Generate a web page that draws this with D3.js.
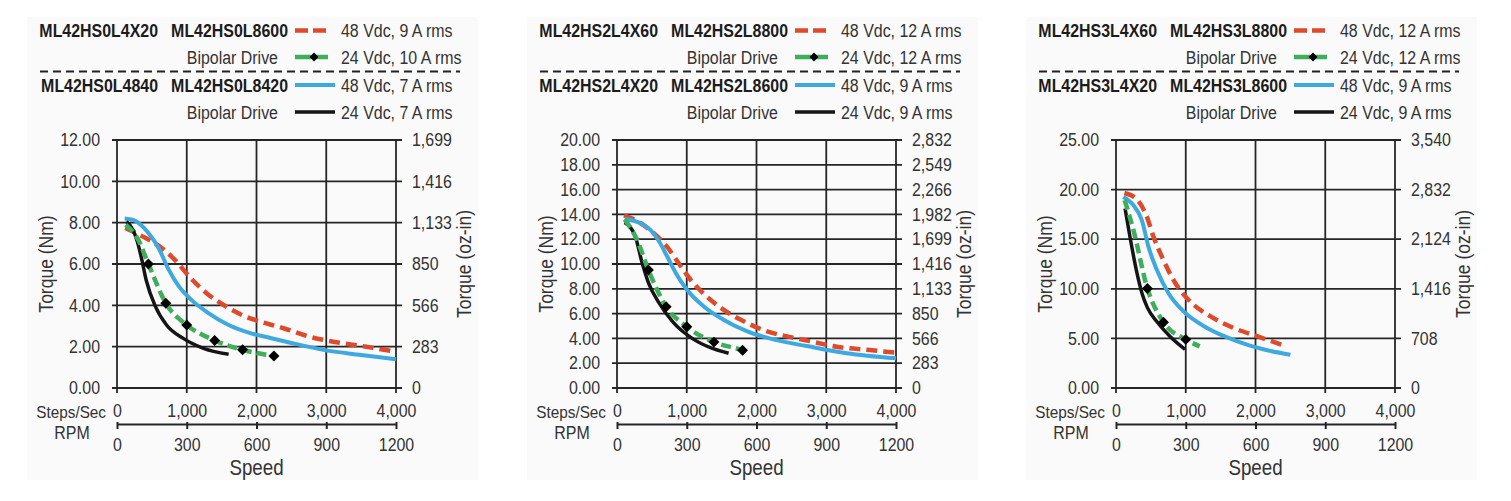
<!DOCTYPE html>
<html>
<head>
<meta charset="utf-8">
<script src="https://cdn.jsdelivr.net/npm/d3@7"></script>
<style>
  body { margin: 0; background: #fff; }
  svg text { font-family: "Liberation Sans", Arial, sans-serif; fill: #333; }
</style>
</head>
<body>
<svg id="chart" width="1511" height="501"></svg>
<script>
// shared speed axes
const stepTicks = [0, 1000, 2000, 3000, 4000];
const rpmTicks = [0, 300, 600, 900, 1200];

// ML42HS0 motors
const hs0Names = ['ML42HS0L4X20', 'ML42HS0L8600', 'ML42HS0L4840', 'ML42HS0L8420'];
const hs0Drives = ['48 Vdc, 9 A rms', '24 Vdc, 10 A rms', '48 Vdc, 7 A rms', '24 Vdc, 7 A rms'];
const hs0NmTicks = [0, 2, 4, 6, 8, 10, 12];
const hs0OzTicks = ['0', '283', '566', '850', '1,133', '1,416', '1,699'];
const hs0Red = [[120, 7.75], [330, 7.4], [590, 6.9], [830, 6.2], [1040, 5.38], [1280, 4.6], [1570, 3.93], [1850, 3.45], [2100, 3.17], [2400, 2.88], [2760, 2.48], [3100, 2.24], [3570, 2.0], [4000, 1.75]];
const hs0Green = [[125, 7.9], [300, 7.2], [450, 6.0], [700, 4.1], [1000, 3.05], [1400, 2.3], [1800, 1.85], [2250, 1.55]];
const hs0GreenMarks = [[450, 6.0], [700, 4.1], [1000, 3.05], [1400, 2.3], [1800, 1.85], [2250, 1.55]];
const hs0Blue = [[110, 8.2], [230, 8.13], [450, 7.5], [600, 6.75], [730, 5.8], [880, 4.95], [1070, 4.25], [1300, 3.65], [1600, 3.05], [1900, 2.67], [2200, 2.42], [2500, 2.18], [3000, 1.82], [3500, 1.6], [4000, 1.39]];
const hs0Black = [[135, 8.05], [230, 7.65], [290, 7.1], [350, 6.3], [420, 5.2], [550, 3.95], [710, 3.05], [950, 2.4], [1230, 1.93], [1600, 1.63]];

// ML42HS2 motors
const hs2Names = ['ML42HS2L4X60', 'ML42HS2L8800', 'ML42HS2L4X20', 'ML42HS2L8600'];
const hs2Drives = ['48 Vdc, 12 A rms', '24 Vdc, 12 A rms', '48 Vdc, 9 A rms', '24 Vdc, 9 A rms'];
const hs2NmTicks = [0, 2, 4, 6, 8, 10, 12, 14, 16, 18, 20];
const hs2OzTicks = ['0', '283', '566', '850', '1,133', '1,416', '1,699', '1,982', '2,266', '2,549', '2,832'];
const hs2Red = [[100, 13.92], [330, 13.33], [520, 12.52], [710, 11.44], [880, 10.1], [1070, 8.62], [1280, 7.41], [1520, 6.34], [1810, 5.4], [2140, 4.59], [2520, 4.06], [2760, 3.78], [3150, 3.33], [3620, 3.06], [4000, 2.85]];
const hs2Green = [[110, 13.6], [285, 11.98], [450, 9.52], [705, 6.56], [1000, 4.94], [1390, 3.7], [1800, 3.05], [1905, 2.84]];
const hs2GreenMarks = [[450, 9.52], [705, 6.56], [1000, 4.94], [1390, 3.7], [1800, 3.05]];
const hs2Blue = [[110, 13.65], [330, 13.3], [480, 12.75], [600, 11.85], [720, 10.6], [840, 9.3], [1000, 7.95], [1240, 6.6], [1520, 5.53], [1860, 4.59], [2240, 3.92], [2720, 3.38], [3290, 2.8], [4000, 2.39]];
const hs2Black = [[110, 13.35], [260, 12.25], [360, 10.1], [450, 8.5], [600, 6.88], [810, 5.27], [1100, 3.92], [1340, 3.25], [1600, 2.8]];

// ML42HS3 motors
const hs3Names = ['ML42HS3L4X60', 'ML42HS3L8800', 'ML42HS3L4X20', 'ML42HS3L8600'];
const hs3Drives = ['48 Vdc, 12 A rms', '24 Vdc, 12 A rms', '48 Vdc, 9 A rms', '24 Vdc, 9 A rms'];
const hs3NmTicks = [0, 5, 10, 15, 20, 25];
const hs3OzTicks = ['0', '708', '1,416', '2,124', '2,832', '3,540'];
const hs3Red = [[120, 19.66], [300, 19.0], [440, 17.3], [535, 15.3], [680, 12.9], [850, 10.58], [1060, 8.74], [1350, 7.24], [1680, 6.07], [2020, 5.23], [2400, 4.3]];
const hs3Green = [[125, 18.93], [250, 15.92], [450, 10.04], [680, 6.63], [1000, 4.9], [1200, 4.2]];
const hs3GreenMarks = [[450, 10.04], [680, 6.63], [1000, 4.9]];
const hs3Blue = [[105, 19.26], [250, 18.43], [370, 16.92], [465, 14.25], [585, 11.91], [750, 9.58], [965, 7.74], [1300, 6.07], [1730, 4.73], [2110, 3.9], [2500, 3.35]];
const hs3Black = [[130, 18.1], [200, 15.25], [300, 11.6], [370, 9.6], [450, 8.1], [585, 6.7], [775, 5.2], [990, 3.9]];

const panels = [
  { x0: 117, names: hs0Names, drives: hs0Drives, nmTicks: hs0NmTicks, ozTicks: hs0OzTicks,
    red: hs0Red, green: hs0Green, marks: hs0GreenMarks, blue: hs0Blue, black: hs0Black },
  { x0: 617, names: hs2Names, drives: hs2Drives, nmTicks: hs2NmTicks, ozTicks: hs2OzTicks,
    red: hs2Red, green: hs2Green, marks: hs2GreenMarks, blue: hs2Blue, black: hs2Black },
  { x0: 1116, names: hs3Names, drives: hs3Drives, nmTicks: hs3NmTicks, ozTicks: hs3OzTicks,
    red: hs3Red, green: hs3Green, marks: hs3GreenMarks, blue: hs3Blue, black: hs3Black }
];

const colors = { red: '#dd4a2c', green: '#3fae5c', blue: '#3ea9df', black: '#151515' };
const gridColor = '#262626';
const plotTop = 140, plotBottom = 388, plotW = 279;
const legendRows = [30.5, 57, 85, 112];
// the original lettering is a little taller than it is wide
const fs = 18, squeeze = 0.885;

const svg = d3.select('#chart');

panels.forEach(drawPanel);

// narrow every label so it keeps the original width
svg.selectAll('text').each(function () {
  const w = this.getComputedTextLength();
  this.setAttribute('textLength', w * squeeze);
  this.setAttribute('lengthAdjust', 'spacingAndGlyphs');
});

function styleAxis(a) {
  a.attr('font-size', fs).attr('font-family', null);
  a.selectAll('text').attr('fill', null);
}

function drawPanel(p) {
  const g = svg.append('g').attr('transform', `translate(${p.x0},0)`);

  const x = d3.scaleLinear().domain([0, 4000]).range([0, plotW]);
  const rpm = d3.scaleLinear().domain([0, 1200]).range([0, plotW]);
  const y = d3.scaleLinear().domain([0, d3.max(p.nmTicks)]).range([plotBottom, plotTop]);

  g.append('rect')
    .attr('x', -90).attr('y', 17)
    .attr('width', 451).attr('height', 463)
    .attr('fill', '#fafafa');

  // legend
  const leg = g.append('g');
  const boldText = (txt, xe, yc) => leg.append('text')
    .attr('x', xe).attr('y', yc + 6.5)
    .attr('text-anchor', 'end')
    .attr('font-size', fs).attr('font-weight', 'bold')
    .style('fill', '#1c1c1c')
    .text(txt);
  boldText(p.names[0], 41, legendRows[0]);
  boldText(p.names[1], 171, legendRows[0]);
  boldText(p.names[2], 41, legendRows[2]);
  boldText(p.names[3], 171, legendRows[2]);
  [1, 3].forEach(r => {
    leg.append('text')
      .attr('x', 161).attr('y', legendRows[r] + 6.5)
      .attr('text-anchor', 'end').attr('font-size', fs)
      .text('Bipolar Drive');
  });

  const legendStyles = [
    { color: colors.red, dash: '13,5', width: 4.5, x2: 210 },
    { color: colors.green, dash: '16,5', width: 4.5, x2: 211 },
    { color: colors.blue, dash: null, width: 4, x2: 218 },
    { color: colors.black, dash: null, width: 3.5, x2: 218 }
  ];
  legendStyles.forEach((s, i) => {
    leg.append('line')
      .attr('x1', 178).attr('x2', s.x2)
      .attr('y1', legendRows[i]).attr('y2', legendRows[i])
      .attr('stroke', s.color).attr('stroke-width', s.width)
      .attr('stroke-dasharray', s.dash);
    leg.append('text')
      .attr('x', 224).attr('y', legendRows[i] + 6.5)
      .attr('font-size', fs)
      .text(p.drives[i]);
  });
  leg.append('path')
    .attr('d', d3.symbol(d3.symbolSquare, 40)())
    .attr('transform', `translate(197,${legendRows[1]}) rotate(45)`)
    .attr('fill', '#000');

  leg.append('line')
    .attr('x1', -77).attr('x2', 343)
    .attr('y1', 71.5).attr('y2', 71.5)
    .attr('stroke', '#222').attr('stroke-width', 2)
    .attr('stroke-dasharray', '8,5');

  // grid
  g.append('g').selectAll('line')
    .data(p.nmTicks)
    .join('line')
    .attr('x1', -5).attr('x2', plotW + 6)
    .attr('y1', d => y(d)).attr('y2', d => y(d))
    .attr('stroke', gridColor).attr('stroke-width', 1.8);

  g.append('g').selectAll('line')
    .data(stepTicks)
    .join('line')
    .attr('x1', d => x(d)).attr('x2', d => x(d))
    .attr('y1', plotTop).attr('y2', plotBottom + 5)
    .attr('stroke', gridColor).attr('stroke-width', 1.8);

  // axes labels
  g.append('g')
    .attr('transform', 'translate(-17,0)')
    .call(d3.axisLeft(y).tickValues(p.nmTicks).tickFormat(d3.format('.2f')).tickSize(0).tickPadding(0))
    .call(a => a.select('.domain').remove())
    .call(styleAxis);

  g.append('g')
    .attr('transform', `translate(${plotW + 16},0)`)
    .call(d3.axisRight(y).tickValues(p.nmTicks).tickFormat((d, i) => p.ozTicks[i]).tickSize(0).tickPadding(0))
    .call(a => a.select('.domain').remove())
    .call(styleAxis);

  g.append('g')
    .attr('transform', 'translate(0,404.2)')
    .call(d3.axisBottom(x).tickValues(stepTicks).tickFormat(d3.format(',')).tickSize(0).tickPadding(0))
    .call(a => a.select('.domain').remove())
    .call(styleAxis);

  const rpmAxis = g.append('g')
    .attr('transform', 'translate(0,424)')
    .call(d3.axisBottom(rpm).tickValues(rpmTicks).tickFormat(d => d).tickSize(5).tickSizeOuter(0).tickPadding(9.2))
    .call(styleAxis);
  rpmAxis.select('.domain').attr('stroke', gridColor).attr('stroke-width', 2);
  rpmAxis.selectAll('.tick line').attr('stroke', gridColor).attr('stroke-width', 2).attr('y1', -2);

  g.append('text')
    .attr('x', -11).attr('y', 417.5)
    .attr('text-anchor', 'end').attr('font-size', 17.3)
    .text('Steps/Sec');
  g.append('text')
    .attr('x', -45).attr('y', 438.5)
    .attr('text-anchor', 'middle').attr('font-size', fs)
    .text('RPM');
  g.append('text')
    .attr('x', plotW / 2).attr('y', 475)
    .attr('text-anchor', 'middle').attr('font-size', 21.2)
    .text('Speed');

  g.append('text')
    .attr('transform', `translate(-69,${(plotTop + plotBottom) / 2}) rotate(-90)`)
    .attr('text-anchor', 'middle').attr('dominant-baseline', 'middle')
    .attr('font-size', 19.8)
    .text('Torque (Nm)');
  g.append('text')
    .attr('transform', `translate(${plotW + 70},${(plotTop + plotBottom) / 2}) rotate(-90)`)
    .attr('text-anchor', 'middle').attr('dominant-baseline', 'middle')
    .attr('font-size', 19.8)
    .text('Torque (oz-in)');

  // curves
  const line = d3.line()
    .x(d => x(d[0]))
    .y(d => y(d[1]))
    .curve(d3.curveMonotoneX);

  const series = [
    { data: p.red, color: colors.red, width: 4.5, dash: '11,6' },
    { data: p.blue, color: colors.blue, width: 4, dash: null },
    { data: p.black, color: colors.black, width: 3.5, dash: null },
    { data: p.green, color: colors.green, width: 4.5, dash: '10,5' }
  ];
  series.forEach(s => {
    g.append('path')
      .datum(s.data)
      .attr('d', line)
      .attr('fill', 'none')
      .attr('stroke', s.color)
      .attr('stroke-width', s.width)
      .attr('stroke-dasharray', s.dash);
  });

  g.append('g').selectAll('path')
    .data(p.marks)
    .join('path')
    .attr('d', d3.symbol(d3.symbolSquare, 60))
    .attr('transform', d => `translate(${x(d[0])},${y(d[1])}) rotate(45)`)
    .attr('fill', '#000');
}
</script>
</body>
</html>
